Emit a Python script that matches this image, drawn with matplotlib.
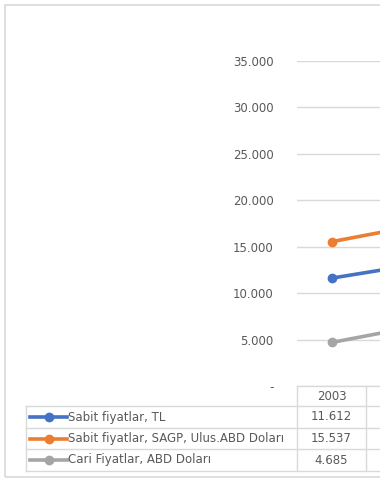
import matplotlib
matplotlib.use("Agg")
import matplotlib.pyplot as plt
from matplotlib.patches import Rectangle
from matplotlib.lines import Line2D
from matplotlib.transforms import blended_transform_factory
from matplotlib.ticker import FuncFormatter

# data (only the 2003 column is fully visible, 2004 is cut at the right edge)
years = ["2003", "2004"]
series_names = ["Sabit fiyatlar, TL",
                "Sabit fiyatlar, SAGP, Ulus.ABD Doları",
                "Cari Fiyatlar, ABD Doları"]
sabit_tl = [11612, 12820]
sabit_sagp = [15537, 16950]
cari_usd = [4685, 6100]
colors = ["#4472C4", "#ED7D31", "#A5A5A5"]
series = [sabit_tl, sabit_sagp, cari_usd]

W, H = 380, 482
grid_c = "#D9D9D9"
text_c = "#595959"
plt.rcParams['font.family'] = ['DejaVu Sans']

fig = plt.figure(figsize=(W / 100, H / 100), dpi=100)


def fx(px):
    return px / W


def fy(py):
    return 1 - py / H


# outer chart border
fig.add_artist(Rectangle((fx(5), fy(477)), fx(400), fy(5) - fy(477),
                         transform=fig.transFigure, fill=False,
                         edgecolor=grid_c, lw=1.2))

ax_left, ax_top, ax_bot = 297, 61, 386
ax = fig.add_axes([fx(ax_left), fy(ax_bot), fx(138), fy(ax_top) - fy(ax_bot)])
ax.set_xlim(-0.5, 1.5)
ax.set_ylim(0, 35000)

xs = list(range(len(years)))
for vals, c in zip(series, colors):
    ax.plot(xs, vals, color=c, lw=2.6, marker="o", markersize=6,
            solid_capstyle="round", zorder=3)

ax.set_yticks(range(0, 35001, 5000))
ax.yaxis.set_major_formatter(FuncFormatter(
    lambda v, p: "-" if v == 0 else f"{int(v):,}".replace(",", ".")))
ax.tick_params(axis="y", length=0, pad=17, labelsize=8.5, labelcolor=text_c)
ax.set_xticks([])
ax.grid(axis="y", color=grid_c, lw=1)
for s in ax.spines.values():
    s.set_visible(False)

# data table under the plot
tr = blended_transform_factory(ax.transData, ax.transAxes)
axh = ax_bot - ax_top


def ay(py):
    return (ax_bot - py) / axh


rows_y = [386, 406, 428, 449, 471]
leg_left = (26 - 331) / 69.0
right = len(years) + 1

# header row
ax.add_line(Line2D([-0.5, right], [ay(386)] * 2, transform=tr,
                   color=grid_c, lw=1, clip_on=False))
for i, yr in enumerate(years):
    ax.text(i, (ay(386) + ay(406)) / 2, yr, transform=tr, ha="center",
            va="center", fontsize=8.5, color=text_c, clip_on=False)
for y in rows_y[1:]:
    ax.add_line(Line2D([leg_left, right], [ay(y)] * 2, transform=tr,
                       color=grid_c, lw=1, clip_on=False))
ax.add_line(Line2D([leg_left] * 2, [ay(406), ay(471)], transform=tr,
                   color=grid_c, lw=1, clip_on=False))
for i in range(len(years) + 1):
    ax.add_line(Line2D([i - 0.5] * 2, [ay(386), ay(471)], transform=tr,
                       color=grid_c, lw=1, clip_on=False))

key_x0 = (30 - 331) / 69.0
key_x1 = (67 - 331) / 69.0
for r, (name, vals, c) in enumerate(zip(series_names, series, colors)):
    yc = (ay(rows_y[r + 1]) + ay(rows_y[r + 2])) / 2
    ax.add_line(Line2D([key_x0, key_x1], [yc, yc], transform=tr, color=c,
                       lw=2.6, clip_on=False))
    ax.add_line(Line2D([(key_x0 + key_x1) / 2], [yc], transform=tr, color=c,
                       marker="o", markersize=6, clip_on=False))
    ax.text(key_x1 + 0.01, yc, name, transform=tr, ha="left", va="center",
            fontsize=8.5, color=text_c, clip_on=False)
    for i, v in enumerate(vals):
        ax.text(i, yc, f"{v:,}".replace(",", "."), transform=tr,
                ha="center", va="center", fontsize=8.5, color=text_c,
                clip_on=False)

fig.savefig("out.png", dpi=100)
